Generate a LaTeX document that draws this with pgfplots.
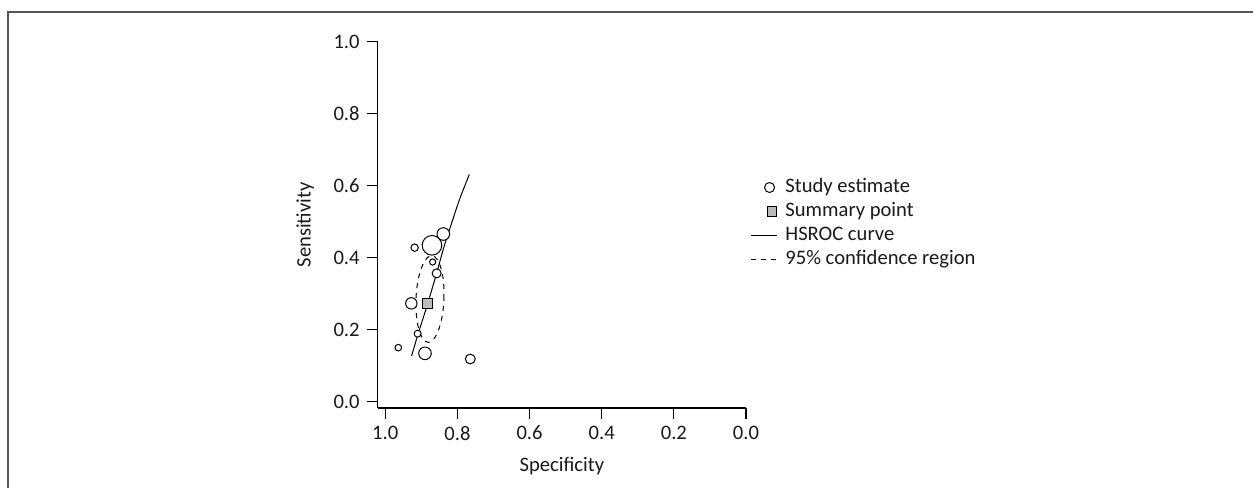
\documentclass[border=0pt]{standalone}
\usepackage{pgfplots}
\pgfplotsset{compat=1.18}
\usepackage{fontspec}
\setmainfont{Carlito}
\definecolor{framegray}{HTML}{555555}
\definecolor{sumgray}{HTML}{BBBBBB}
\definecolor{txt}{HTML}{1A1A1A}
\begin{document}
\begin{tikzpicture}[font=\fontsize{10.3}{12}\selectfont, text=txt]
\path[use as bounding box] (-188.85pt,-40pt) rectangle (437.65pt,204pt);
\draw[framegray, line width=0.8pt] (-184.85pt,-40pt) -- (-184.85pt,198pt) -- (437.65pt,198pt);
\begin{axis}[
  at={(0pt,0pt)}, anchor=south west,
  scale only axis, width=184.15pt, height=183.15pt,
  x dir=reverse,
  xmin=0, xmax=1.021, ymin=-0.0175, ymax=1,
  axis x line*=bottom, axis y line*=left,
  axis line style={line width=0.6pt, black},
  tick align=outside, major tick length=5.5pt,
  tick style={line width=0.6pt, black},
  xtick={0,0.2,...,1.0}, ytick={0,0.2,...,1.0},
  /pgf/number format/.cd, fixed, fixed zerofill, precision=1, assume math mode=true,
  /pgfplots/.cd,
  xlabel={Specificity}, ylabel={Sensitivity},
  xlabel style={at={(axis description cs:0.5,-0.158)}, anchor=center},
  ylabel style={at={(axis description cs:-0.197,0.5)}, anchor=center, rotate=0},
  legend style={draw=none, fill=none, at={(axis description cs:1.011,0.635)}, anchor=north west,
    inner sep=0pt, row sep=0.3pt, column sep=2.5pt,
    nodes={inner sep=1.5pt, text height=6.9pt, text depth=1.8pt, anchor=west}},
  legend cell align=left,
  clip=false,
]
\addlegendimage{legend image code/.code={\draw[black, line width=0.5pt, fill=white] (9.3pt,0pt) circle (2.5pt);}}
\addlegendentry{Study estimate}
\addlegendimage{legend image code/.code={\draw[black, line width=0.5pt, fill=sumgray] (8.2pt,-2.3pt) rectangle (12.8pt,2.3pt);}}
\addlegendentry{Summary point}
\addlegendimage{legend image code/.code={\draw[black, line width=0.5pt] (0pt,0pt) -- (13pt,0pt);}}
\addlegendentry{HSROC curve}
\addlegendimage{legend image code/.code={\draw[black, line width=0.5pt, dash pattern=on 2.5pt off 2.5pt] (0pt,0pt) -- (13pt,0pt);}}
\addlegendentry{95\% confidence region}

% HSROC curve
\addplot[black, line width=0.5pt, smooth, forget plot] coordinates {
(0.927,0.127) (0.9085,0.190) (0.885,0.264) (0.8576,0.357) (0.837,0.431) (0.816,0.496) (0.793,0.565) (0.767,0.631)};

% 95% confidence region
\addplot[black, line width=0.5pt, dash pattern=on 2.5pt off 2.5pt, smooth, forget plot] coordinates {
(0.8373,0.2853) (0.8374,0.3164) (0.8401,0.3455) (0.8454,0.3704) (0.8527,0.3895) (0.8616,0.4015)
(0.8715,0.4056) (0.8817,0.4015) (0.8915,0.3895) (0.9002,0.3704) (0.9074,0.3455) (0.9124,0.3164)
(0.9149,0.2853) (0.9147,0.2541) (0.9120,0.2251) (0.9068,0.2002) (0.8995,0.1810) (0.8906,0.1690)
(0.8807,0.1649) (0.8705,0.1690) (0.8607,0.1810) (0.8519,0.2002) (0.8448,0.2251) (0.8398,0.2541)
(0.8373,0.2853)};

% Study estimates
\addplot[only marks, mark=*, forget plot, scatter, point meta=0,
  scatter/use mapped color={draw=black, fill=white, line width=0.5pt},
  visualization depends on={\thisrow{r}\as\rad},
  scatter/@pre marker code/.append style={/tikz/mark size=\rad}]
  table[x=sp, y=se] {
sp se r
0.8705 0.4344 4.9
0.8391 0.4658 3.15
0.9186 0.4279 1.85
0.8687 0.3881 1.55
0.8576 0.3566 2.25
0.9278 0.2732 2.85
0.9103 0.1890 1.75
0.9639 0.1501 1.65
0.8899 0.1344 3.15
0.7643 0.1186 2.45
};

% Summary point
\addplot[only marks, mark=square*, mark size=2.6pt, forget plot,
  mark options={draw=black, fill=sumgray, line width=0.5pt}]
  coordinates {(0.8825,0.2732)};
\end{axis}
\end{tikzpicture}
\end{document}
